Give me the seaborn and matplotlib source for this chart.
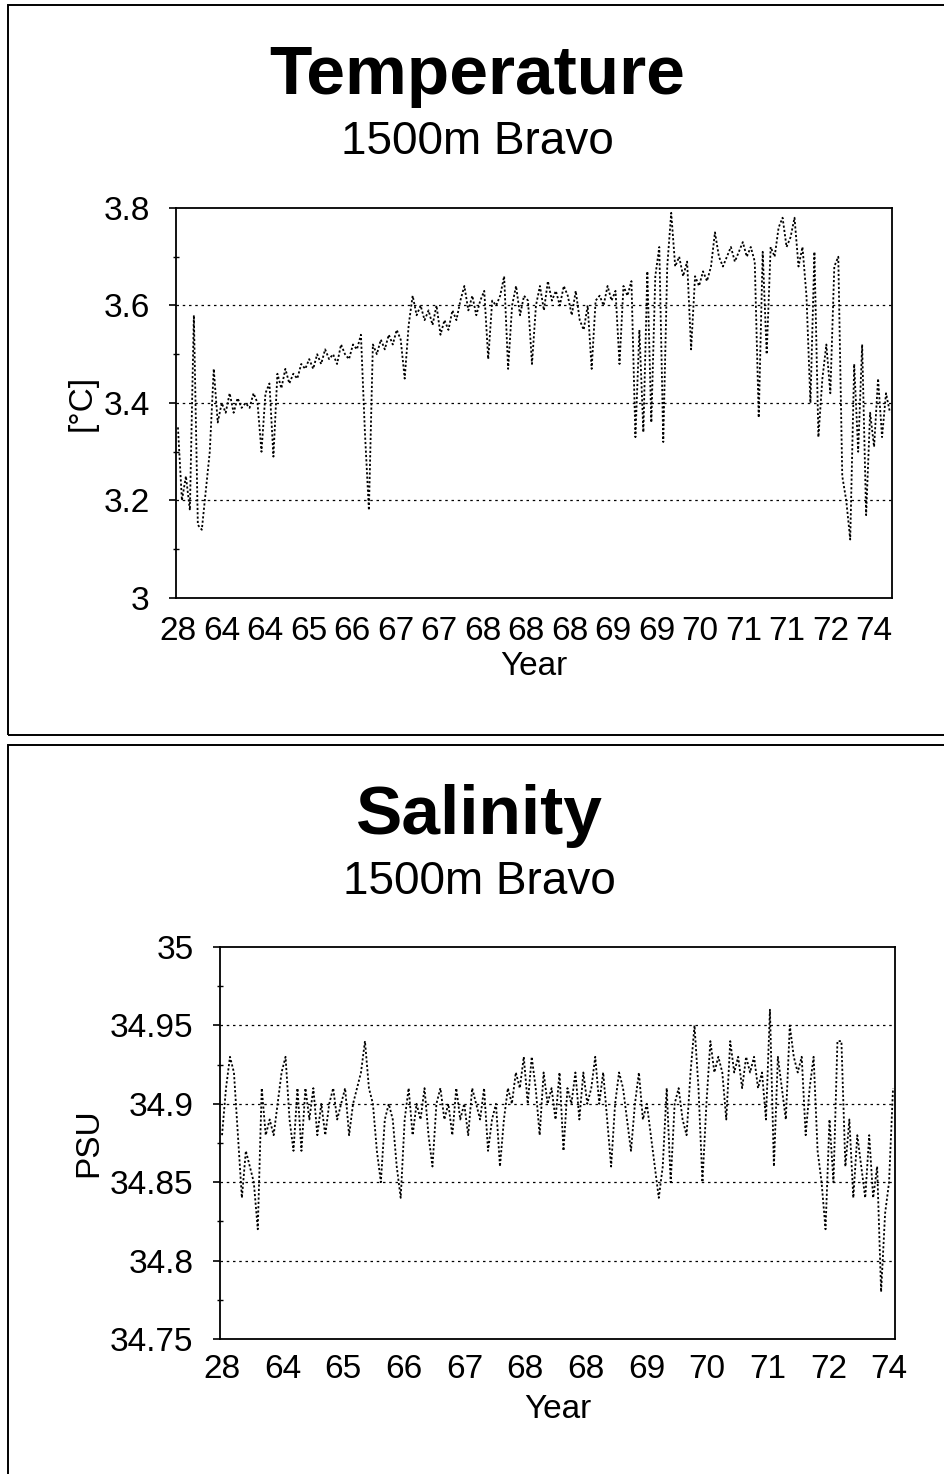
"""
Temperature / Salinity at 1500m, OWS Bravo -- two stacked dotted time series.
"""

import numpy as np
import pandas as pd
import matplotlib.pyplot as plt
import seaborn as sns
from matplotlib.patches import Rectangle
from matplotlib.ticker import MultipleLocator

# temperature [°C], one value per sample
temp_values = [
    3.35, 3.20, 3.25, 3.18, 3.58, 3.15, 3.14, 3.22, 3.30, 3.47,
    3.36, 3.40, 3.38, 3.42, 3.38, 3.41, 3.39, 3.40, 3.39, 3.42,
    3.40, 3.30, 3.42, 3.44, 3.29, 3.46, 3.43, 3.47, 3.44, 3.46,
    3.45, 3.48, 3.47, 3.49, 3.47, 3.50, 3.48, 3.51, 3.49, 3.50,
    3.48, 3.52, 3.50, 3.49, 3.52, 3.51, 3.54, 3.34, 3.18, 3.52,
    3.50, 3.53, 3.51, 3.54, 3.52, 3.55, 3.53, 3.45, 3.56, 3.62,
    3.58, 3.60, 3.57, 3.59, 3.56, 3.60, 3.54, 3.57, 3.55, 3.59,
    3.57, 3.61, 3.64, 3.59, 3.62, 3.58, 3.61, 3.63, 3.49, 3.61,
    3.60, 3.62, 3.66, 3.47, 3.60, 3.64, 3.58, 3.62, 3.61, 3.48,
    3.60, 3.64, 3.59, 3.65, 3.61, 3.63, 3.60, 3.64, 3.62, 3.58,
    3.63, 3.57, 3.55, 3.60, 3.47, 3.61, 3.62, 3.60, 3.64, 3.61,
    3.63, 3.48, 3.64, 3.62, 3.65, 3.33, 3.55, 3.34, 3.67, 3.36,
    3.66, 3.72, 3.32, 3.68, 3.79, 3.68, 3.70, 3.66, 3.69, 3.51,
    3.66, 3.64, 3.67, 3.65, 3.68, 3.75, 3.70, 3.68, 3.70, 3.72,
    3.69, 3.71, 3.73, 3.70, 3.72, 3.69, 3.37, 3.71, 3.50, 3.72,
    3.70, 3.76, 3.78, 3.72, 3.74, 3.78, 3.68, 3.72, 3.62, 3.40,
    3.71, 3.33, 3.45, 3.52, 3.42, 3.68, 3.70, 3.25, 3.20, 3.12,
    3.48, 3.30, 3.52, 3.17, 3.38, 3.31, 3.45, 3.33, 3.42, 3.38,
]

# salinity [PSU]
sal_values = [
    34.88, 34.91, 34.93, 34.92, 34.88, 34.84, 34.87, 34.86, 34.85, 34.82,
    34.91, 34.88, 34.89, 34.88, 34.90, 34.92, 34.93, 34.89, 34.87, 34.91,
    34.87, 34.91, 34.89, 34.91, 34.88, 34.90, 34.88, 34.90, 34.91, 34.89,
    34.90, 34.91, 34.88, 34.90, 34.91, 34.92, 34.94, 34.91, 34.90, 34.87,
    34.85, 34.89, 34.90, 34.89, 34.86, 34.84, 34.89, 34.91, 34.88, 34.90,
    34.89, 34.91, 34.88, 34.86, 34.90, 34.91, 34.89, 34.90, 34.88, 34.91,
    34.89, 34.90, 34.88, 34.91, 34.90, 34.89, 34.91, 34.87, 34.89, 34.90,
    34.86, 34.89, 34.91, 34.90, 34.92, 34.91, 34.93, 34.90, 34.93, 34.91,
    34.88, 34.92, 34.90, 34.91, 34.89, 34.92, 34.87, 34.91, 34.90, 34.92,
    34.89, 34.92, 34.90, 34.91, 34.93, 34.90, 34.92, 34.89, 34.86, 34.90,
    34.92, 34.91, 34.89, 34.87, 34.90, 34.92, 34.89, 34.90, 34.88, 34.86,
    34.84, 34.86, 34.91, 34.85, 34.90, 34.91, 34.89, 34.88, 34.92, 34.95,
    34.91, 34.85, 34.90, 34.94, 34.92, 34.93, 34.92, 34.89, 34.94, 34.92,
    34.93, 34.91, 34.93, 34.92, 34.93, 34.91, 34.92, 34.89, 34.96, 34.86,
    34.93, 34.91, 34.89, 34.95, 34.93, 34.92, 34.93, 34.88, 34.91, 34.93,
    34.87, 34.85, 34.82, 34.89, 34.85, 34.94, 34.94, 34.86, 34.89, 34.84,
    34.88, 34.86, 34.84, 34.88, 34.84, 34.86, 34.78, 34.83, 34.85, 34.91,
]

temp_year_labels = ["28", "64", "64", "65", "66", "67", "67", "68", "68",
                    "68", "69", "69", "70", "71", "71", "72", "74"]
sal_year_labels = ["28", "64", "65", "66", "67", "68", "68", "69",
                   "70", "71", "72", "74"]

sns.set_style("white")
plt.rcParams["font.family"] = ["Liberation Sans", "DejaVu Sans"]
plt.rcParams.update({
    "text.color": "black",
    "axes.labelcolor": "black",
    "xtick.color": "black",
    "ytick.color": "black",
    "ytick.left": True,
})

fig = plt.figure(figsize=(9.44, 14.74), dpi=100)

# panel frames (scanned page boxes)
fig.add_artist(Rectangle((0.0085, 0.5014), 1.0, 0.4952, transform=fig.transFigure,
                         fill=False, lw=1.4, color="black"))
fig.add_artist(Rectangle((0.0085, -0.01), 1.0, 0.5046, transform=fig.transFigure,
                         fill=False, lw=1.4, color="black"))

ax1 = fig.add_axes([0.1864, 0.5943, 0.7585, 0.2646])
ax2 = fig.add_axes([0.2331, 0.0916, 0.7150, 0.2659])


def draw_panel(ax, values, ylim, major, minor, ylabel, year_labels, last_tick,
               xpad, labelpad):
    df = pd.DataFrame({"idx": np.arange(len(values)), "val": values})
    sns.lineplot(data=df, x="idx", y="val", ax=ax, color="black",
                 lw=1.3, linestyle=(0, (1.2, 1.2)))
    ax.set_xlim(-0.5, len(values) - 0.5)
    ax.set_ylim(*ylim)
    ax.yaxis.set_major_locator(MultipleLocator(major))
    ax.yaxis.set_minor_locator(MultipleLocator(minor))
    ax.set_xticks(np.linspace(0, last_tick, len(year_labels)))
    ax.set_xticklabels(year_labels)
    ax.tick_params(axis="x", length=0, labelsize=24, pad=xpad)
    ax.tick_params(axis="y", which="major", left=True, direction="out",
                   length=5, width=1.2, labelsize=24, pad=14)
    ax.tick_params(axis="y", which="minor", left=True, direction="inout",
                   length=4, width=1.0)
    for s in ax.spines.values():
        s.set_color("black")
        s.set_linewidth(1.3)
    for yv in np.arange(ylim[0] + major, ylim[1] - major / 2, major):
        ax.axhline(yv, color="black", lw=0.9, linestyle=(0, (2, 3)), zorder=0)
    ax.set_xlabel("Year", fontsize=24, labelpad=labelpad)
    ax.set_ylabel(ylabel, fontsize=24, labelpad=4)


draw_panel(ax1, temp_values, (3.0, 3.8), 0.2, 0.1, "[°C]",
           temp_year_labels, 175, 13, 3)
ax1.yaxis.set_major_formatter(plt.FuncFormatter(lambda v, p: f"{v:g}"))

draw_panel(ax2, sal_values, (34.75, 35.0), 0.05, 0.025, "PSU",
           sal_year_labels, 168, 11, 6)
ax2.yaxis.set_major_formatter(plt.FuncFormatter(lambda v, p: f"{v:.2f}".rstrip("0").rstrip(".")))

fig.text(0.506, 0.9365, "Temperature", ha="center", va="baseline",
         fontsize=50, fontweight="bold")
fig.text(0.506, 0.8955, "1500m Bravo", ha="center", va="baseline", fontsize=33)
fig.text(0.508, 0.4340, "Salinity", ha="center", va="baseline",
         fontsize=50, fontweight="bold")
fig.text(0.508, 0.3935, "1500m Bravo", ha="center", va="baseline", fontsize=33)

fig.savefig("out.png", dpi=100)
plt.close(fig)
